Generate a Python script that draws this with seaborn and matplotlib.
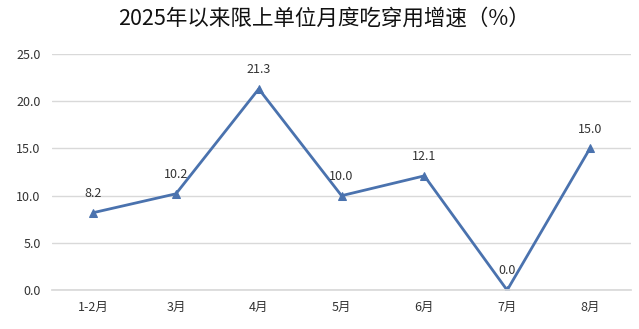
import matplotlib
matplotlib.use("Agg")
import matplotlib.pyplot as plt
import seaborn as sns
import pandas as pd

categories = ["1-2月", "3月", "4月", "5月", "6月", "7月", "8月"]
values = [8.2, 10.2, 21.3, 10.0, 12.1, 0.0, 15.0]
title = "2025年以来限上单位月度吃穿用增速（%）"

sns.set_theme(style="white")
plt.rcParams['font.family'] = ['Noto Sans CJK SC', 'DejaVu Sans']

df = pd.DataFrame({"cat": categories, "val": values})
fig = plt.figure(figsize=(6.39, 3.29), dpi=100)
ax = fig.add_axes([0.081, 0.118, 0.907, 0.718])

color = "#4A72AE"
sns.lineplot(data=df, x="cat", y="val", ax=ax, color=color, linewidth=2.0,
             marker="^", markersize=5.5, markeredgecolor=color, sort=False)

for i, v in enumerate(values):
    ax.annotate(f"{v:.1f}", (i, v), xytext=(0, 14), textcoords="offset points",
                ha="center", va="center", fontsize=9, color="#333333")

ax.set_ylim(0, 25)
ax.set_yticks([0, 5, 10, 15, 20, 25])
ax.set_yticklabels([f"{t:.1f}" for t in [0, 5, 10, 15, 20, 25]])
ax.set_xlim(-0.5, len(categories) - 0.5)
ax.yaxis.grid(True, color="#D9D9D9", linewidth=1)
ax.set_axisbelow(True)
for s in ["top", "right", "left"]:
    ax.spines[s].set_visible(False)
ax.spines["bottom"].set_color("#D9D9D9")
ax.tick_params(axis="both", length=0, labelsize=9, colors="#333333", pad=8)
ax.set_xlabel("")
ax.set_ylabel("")

fig.text(0.507, 0.942, title, ha="center", va="center", fontsize=15.5, color="#111111")

fig.savefig("out.png", dpi=100)
